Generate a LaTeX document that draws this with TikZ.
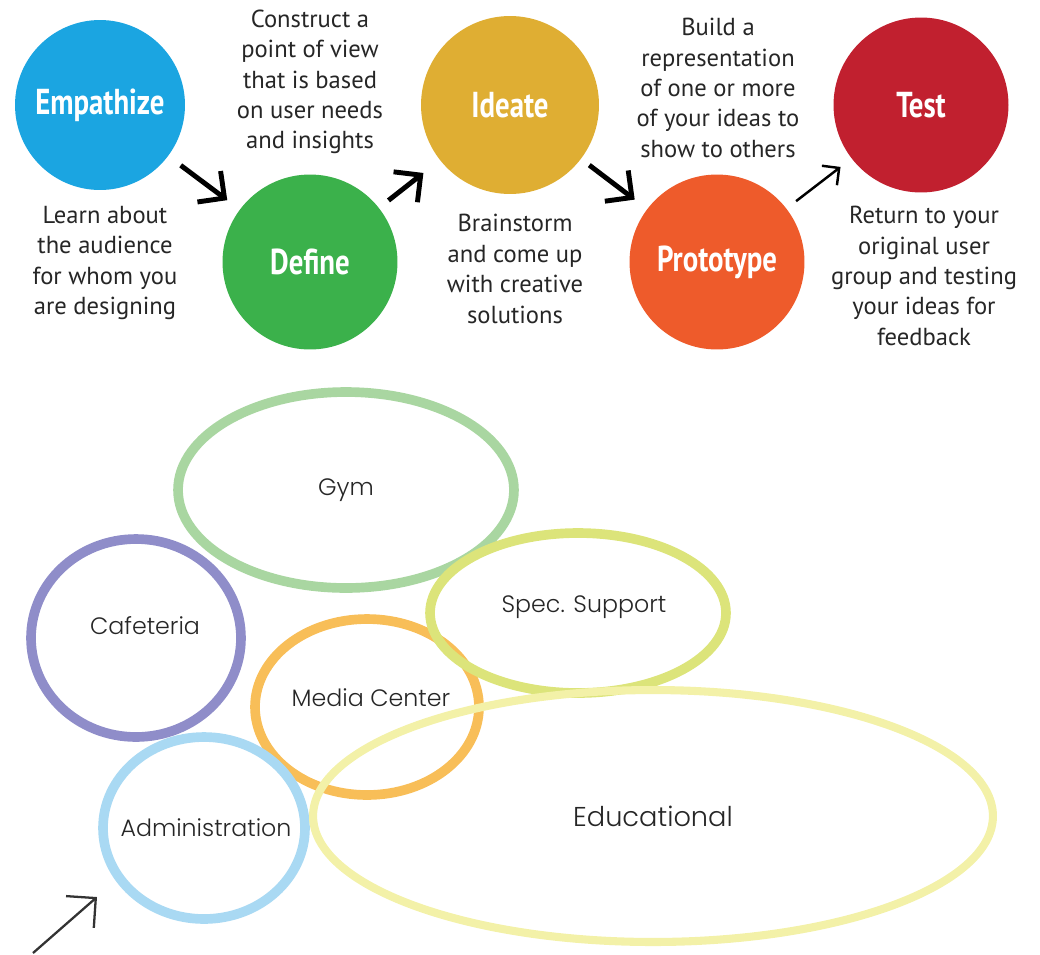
\documentclass[tikz,border=0pt]{standalone}
\usepackage{fontspec}
\setmainfont{PT Sans}
\newfontfamily\stagefont{PT Sans}[FakeStretch=0.8]
\newfontfamily\zonefont{Poppins Light}
\usetikzlibrary{arrows.meta, shapes.geometric}

% design thinking stages
\definecolor{empblue}{HTML}{1BA5E1}
\definecolor{defgreen}{HTML}{3BB14B}
\definecolor{ideyellow}{HTML}{DFAE33}
\definecolor{proorange}{HTML}{EE5B2B}
\definecolor{testred}{HTML}{C1202F}
% school zones
\definecolor{gymgreen}{HTML}{A9D6A1}
\definecolor{cafpurple}{HTML}{8F8DC9}
\definecolor{specgreen}{HTML}{DCE47A}
\definecolor{medorange}{HTML}{F8BE58}
\definecolor{admblue}{HTML}{A9D9F3}
\definecolor{eduyellow}{HTML}{F3F1A8}

\tikzset{
  stage/.style={circle, minimum size=3.5cm, inner sep=0pt, outer sep=0pt, text=white,
    font=\stagefont\bfseries\fontsize{20.5}{22}\selectfont},
  note/.style={align=center, text=black!85, font=\fontsize{14}{17.3}\selectfont},
  flow/.style={-{Straight Barb[length=11pt, width=22pt]}, line width=2.8pt},
  zone/.style={ellipse, draw, line width=5.5pt, inner sep=0pt, text=black!85,
    font=\zonefont\fontsize{13.5}{15}\selectfont}
}

\begin{document}
\begin{tikzpicture}[x=0.02cm, y=-0.02cm]
    \useasboundingbox (0,0) rectangle (1040,954);

    % top row: the five stages
    \node[stage, fill=empblue, minimum size=3.4cm] at (100,105) (empathize) {Empathize};
    \node[stage, fill=defgreen] at (310,262) (define) {Define};
    \node[stage, fill=ideyellow, minimum size=3.56cm] at (510,105) (ideate) {Ideate};
    \node[stage, fill=proorange] at (717,262) (prototype) {Prototype};
    \node[stage, fill=testred] at (921,105) (test) {Test};

    \node[note] at (105,263) (empnote) {Learn about\\the audience\\for whom you\\are designing};
    \node[note] at (310,82) (defnote) {Construct a\\point of view\\that is based\\on user needs\\and insights};
    \node[note] at (515,269) (idenote) {Brainstorm\\and come up\\with creative\\solutions};
    \node[note] at (718,88) (pronote) {Build a\\representation\\of one or more\\of your ideas to\\show to others};
    \node[note] at (924,276) (testnote) {Return to your\\original user\\group and testing\\your ideas for\\feedback};

    \draw[flow, shorten <=9pt, shorten >=9pt] (empathize) -- (define);
    \draw[flow, shorten <=7pt, shorten >=12pt] (define) -- (ideate);
    \draw[flow, shorten <=6pt, shorten >=9pt] (ideate) -- (prototype);
    \draw[-{Straight Barb[length=7pt, width=14pt]}, line width=1.4pt, shorten <=7pt, shorten >=8pt]
        (prototype) -- (test);

    % bottom: school zones
    \node[zone, draw=gymgreen, minimum width=6.72cm, minimum height=3.92cm] at (346,490) (gym) {Gym};
    \node[zone, draw=cafpurple, minimum width=4.2cm, minimum height=3.96cm] at (136,638) (cafe) {};
    \node[zone, draw=medorange, minimum width=4.48cm, minimum height=3.52cm] at (367,707) (media) {};
    \node[zone, draw=specgreen, minimum width=5.92cm, minimum height=3.2cm] at (578,613) (spec) {};
    \node[zone, draw=admblue, minimum width=4.04cm, minimum height=3.64cm] at (204,828) (admin) {};
    \node[zone, draw=eduyellow, line width=4.6pt, minimum width=13.6cm, minimum height=5.04cm,
        font=\zonefont\fontsize{15.5}{18}\selectfont] at (653,816) (edu) {Educational};

    % labels sit a little off the ellipse centres
    \node[zone, draw=none] at (145,626) (cafelabel) {Cafeteria};
    \node[zone, draw=none] at (371,698) (medialabel) {Media Center};
    \node[zone, draw=none] at (584,607) (speclabel) {Spec. Support};
    \node[zone, draw=none] at (206,828) (adminlabel) {Administration};

    \coordinate (tail) at (33,953);
    \coordinate (head) at (97,897);
    \draw[-{Straight Barb[length=12pt, width=24pt]}, line width=1.3pt, black!80] (tail) -- (head);
\end{tikzpicture}
\end{document}
